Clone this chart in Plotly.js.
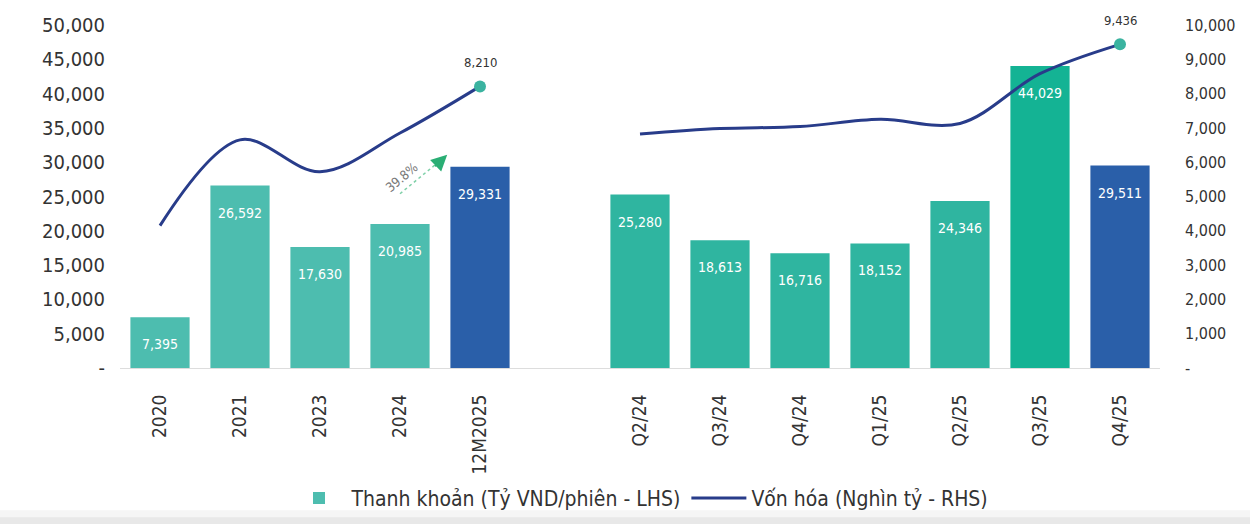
<!DOCTYPE html>
<html>
<head>
<meta charset="utf-8">
<script src="https://cdn.plot.ly/plotly-3.0.1.min.js"></script>
<style>html,body{margin:0;padding:0;background:#fff;}#chart{width:1250px;height:524px;}</style>
</head>
<body>
<div id="chart"></div>
<script>
// ---- data ----
const categories = ["2020","2021","2023","2024","12M2025"," ","Q2/24","Q3/24","Q4/24","Q1/25","Q2/25","Q3/25","Q4/25"];
const liquidity = [7395, 26592, 17630, 20985, 29331, null, 25280, 18613, 16716, 18152, 24346, 44029, 29511];
const marketCap = [4150, 6650, 5720, 6850, 8210, null, 6820, 6980, 7040, 7250, 7130, 8580, 9436];
const barColors = ["#4dbdaf","#4dbdaf","#4dbdaf","#4dbdaf","#2a5fa9","#ffffff","#2fb5a0","#2fb5a0","#2fb5a0","#2fb5a0","#2fb5a0","#14b394","#2a5fa9"];
const leftTicks = [0,5000,10000,15000,20000,25000,30000,35000,40000,45000,50000];
const leftTickText = ["-","5,000","10,000","15,000","20,000","25,000","30,000","35,000","40,000","45,000","50,000"];
const rightTicks = [0,1000,2000,3000,4000,5000,6000,7000,8000,9000,10000];
const rightTickText = ["-","1,000","2,000","3,000","4,000","5,000","6,000","7,000","8,000","9,000","10,000"];
const capLabelIdx = [4, 12];
const growthText = "39.8%";
const legendBar = "Thanh khoản (Tỷ VND/phiên - LHS)";
const legendLine = "Vốn hóa (Nghìn tỷ - RHS)";

const FONT = "'DejaVu Sans Condensed', 'Liberation Sans Narrow', Roboto, sans-serif";
const fmt = v => v.toLocaleString('en-US');

const traces = [
  {
    type: 'bar', x: categories, y: liquidity, name: legendBar,
    marker: {color: barColors}, yaxis: 'y', hoverinfo: 'skip'
  },
  {
    type: 'scatter', mode: 'lines', x: categories, y: marketCap, name: legendLine,
    yaxis: 'y2', line: {color: '#283c8a', width: 3, shape: 'spline', smoothing: 1},
    connectgaps: false, hoverinfo: 'skip'
  },
  {
    type: 'scatter', mode: 'markers', x: capLabelIdx.map(i => categories[i]), y: capLabelIdx.map(i => marketCap[i]),
    yaxis: 'y2', marker: {color: '#3bb3a0', size: 12}, showlegend: false, hoverinfo: 'skip'
  }
];

const annotations = [];
categories.forEach((c, i) => {
  if (liquidity[i] == null) return;
  annotations.push({
    x: i, y: liquidity[i], xref: 'x', yref: 'y', text: fmt(liquidity[i]),
    showarrow: false, yshift: -27,
    font: {family: FONT, size: 14, color: '#ffffff'}
  });
});
capLabelIdx.forEach(i => {
  annotations.push({
    x: i, y: marketCap[i], xref: 'x', yref: 'y2', text: fmt(marketCap[i]),
    showarrow: false, yshift: 24,
    font: {family: FONT, size: 13, color: '#333333'}
  });
});
// growth arrow
annotations.push({
  x: 3.59, y: 31100, xref: 'x', yref: 'y', ax: 3.42, ay: 29200, axref: 'x', ayref: 'y',
  text: '', showarrow: true, arrowhead: 2, arrowsize: 1.6, arrowwidth: 2, arrowcolor: '#2aae74'
});
annotations.push({
  x: 3.02, y: 27800, xref: 'x', yref: 'y', text: growthText, textangle: -40,
  showarrow: false, font: {family: FONT, size: 13, color: '#777777'}
});

const shapes = [
  {type: 'line', xref: 'x', yref: 'y', x0: 3.0, y0: 25400, x1: 3.5, y1: 30200,
   line: {color: '#7fd0a8', width: 1.5, dash: 'dot'}},
  {type: 'rect', xref: 'paper', yref: 'paper', x0: -0.12, x1: 1.09, y0: -0.46, y1: -0.415,
   fillcolor: 'rgba(215,215,215,0.25)', line: {width: 0}, layer: 'below'},
  {type: 'rect', xref: 'paper', yref: 'paper', x0: -0.12, x1: 1.09, y0: -0.46, y1: -0.435,
   fillcolor: 'rgba(195,195,195,0.25)', line: {width: 0}, layer: 'below'}
];

const layout = {
  width: 1250, height: 524,
  margin: {l: 120, r: 90, t: 25, b: 156, autoexpand: false},
  paper_bgcolor: '#ffffff', plot_bgcolor: '#ffffff',
  font: {family: FONT, color: '#333333'},
  bargap: 0.26,
  showlegend: true,
  legend: {orientation: 'h', x: 0.5, xanchor: 'center', y: -0.38, yanchor: 'middle',
           bgcolor: 'rgba(0,0,0,0)',
           font: {family: FONT, size: 21, color: '#333333'}, itemwidth: 55, traceorder: 'normal'},
  xaxis: {
    type: 'category', categoryorder: 'array', categoryarray: categories,
    range: [-0.5, 12.5], tickangle: -90, showgrid: false, zeroline: false,
    showline: true, linecolor: '#dddddd', linewidth: 1, ticks: '',
    tickfont: {family: FONT, size: 19, color: '#333333'}, ticklabelstandoff: 18
  },
  yaxis: {
    range: [0, 50000], tickvals: leftTicks, ticktext: leftTickText, showgrid: false,
    zeroline: false, showline: false, ticks: '', ticklabelstandoff: 14,
    tickfont: {family: FONT, size: 20, color: '#333333'}
  },
  yaxis2: {
    range: [0, 10000], tickvals: rightTicks, ticktext: rightTickText, overlaying: 'y', side: 'right',
    showgrid: false, zeroline: false, showline: false, ticks: '', ticklabelstandoff: 24,
    tickfont: {family: FONT, size: 16, color: '#333333'}
  },
  annotations: annotations,
  shapes: shapes
};

Plotly.newPlot('chart', traces, layout, {displayModeBar: false, staticPlot: true});
</script>
</body>
</html>
